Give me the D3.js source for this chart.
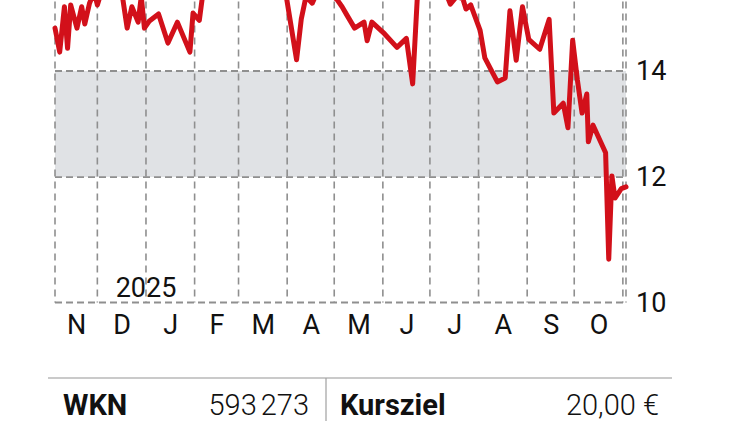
<!DOCTYPE html>
<html>
<head>
<meta charset="utf-8">
<script src="https://cdn.jsdelivr.net/npm/d3@7"></script>
<style>
  body { margin: 0; background: #fff; }
  svg { display: block; font-family: Roboto, "Open Sans", sans-serif; }
</style>
</head>
<body>
<svg width="750" height="421"></svg>
<script>
// price data (top of the chart is cut off in the source, values above ~15.5 are guesses)
const dates = [
  "2024-11-04","2024-11-07","2024-11-10","2024-11-12","2024-11-14","2024-11-18","2024-11-21","2024-11-23",
  "2024-11-26","2024-11-29","2024-12-01","2024-12-06","2024-12-12","2024-12-17","2024-12-20","2024-12-23",
  "2024-12-27","2024-12-29","2024-12-31","2025-01-03","2025-01-09","2025-01-15","2025-01-21","2025-01-29",
  "2025-01-31","2025-02-04","2025-02-06","2025-02-14","2025-02-23","2025-03-05","2025-03-14","2025-03-24",
  "2025-03-31","2025-04-07","2025-04-10","2025-04-13","2025-04-17","2025-04-22","2025-04-28","2025-05-03",
  "2025-05-06","2025-05-09","2025-05-14","2025-05-20","2025-05-22","2025-05-25","2025-06-02","2025-06-10",
  "2025-06-16","2025-06-20","2025-06-23","2025-06-28","2025-07-07","2025-07-13","2025-07-14","2025-07-18",
  "2025-07-22","2025-07-24","2025-07-27","2025-08-02","2025-08-05","2025-08-13","2025-08-18","2025-08-21",
  "2025-08-25","2025-08-29","2025-09-02","2025-09-09","2025-09-15","2025-09-18","2025-09-24","2025-09-27",
  "2025-09-30","2025-10-03","2025-10-06","2025-10-09","2025-10-10","2025-10-13","2025-10-21","2025-10-23",
  "2025-10-25","2025-10-27","2025-10-31","2025-11-03"
];
const prices = [
  14.90,14.39,15.37,14.47,15.41,14.90,15.37,14.99,
  15.45,15.70,15.41,16.00,15.90,15.60,14.90,15.37,
  15.03,15.60,14.90,15.05,15.21,14.58,15.03,14.39,
  15.23,15.07,15.60,16.50,17.00,16.80,17.20,16.60,
  15.70,14.23,15.10,15.60,15.45,15.85,15.70,15.52,
  15.37,15.19,14.90,15.03,14.63,15.03,14.78,14.49,
  14.68,13.74,15.60,16.20,16.00,15.52,15.43,15.60,
  15.55,15.32,15.41,14.85,14.27,13.78,13.86,15.28,
  14.22,15.37,14.66,14.45,15.09,13.17,13.36,12.89,
  14.64,13.82,13.17,13.54,12.63,12.94,12.43,10.65,
  12.02,11.64,11.80,11.83
];
const monthStarts = ["2024-11-01","2024-12-01","2025-01-01","2025-02-01","2025-03-01","2025-04-01",
  "2025-05-01","2025-06-01","2025-07-01","2025-08-01","2025-09-01","2025-10-01","2025-11-01"];
const monthLetters = ["N","D","J","F","M","A","M","J","J","A","S","O"];
const yTicks = [10, 12, 14];
const band = [12, 14];
const yearLabel = "2025";
const tableLabels = ["WKN", "Kursziel"];
const tableValues = [["593", "273"], ["20,00 €"]];

const parse = d3.timeParse("%Y-%m-%d");
const svg = d3.select("svg");

const start = parse("2024-11-04"), end = parse("2025-11-03");
const x = d3.scaleTime().domain([start, end]).range([55, 626]);
const y = d3.scaleLog().domain([10, 14]).range([302.5, 71]);

const grid = "#8f8f8f";
const ink = "#111";
const data = dates.map((d, i) => ({ date: parse(d), value: prices[i] }));

// grey band 12-14
svg.append("rect")
  .attr("x", x(start)).attr("width", x(end) - x(start))
  .attr("y", y(band[1])).attr("height", y(band[0]) - y(band[1]))
  .attr("fill", "#e0e2e5");

// vertical month lines + plot borders
const vlines = monthStarts.map(parse).filter(d => d > start).concat([start, end]);
svg.append("g").selectAll("line").data(vlines).join("line")
  .attr("x1", d => x(d)).attr("x2", d => x(d))
  .attr("y1", y(17.5)).attr("y2", y(10))
  .attr("stroke", grid).attr("stroke-width", 1.6).attr("stroke-dasharray", "7,5");

// horizontal grid lines
svg.append("g").selectAll("line").data(yTicks).join("line")
  .attr("x1", x(start)).attr("x2", x(end))
  .attr("y1", d => y(d)).attr("y2", d => y(d))
  .attr("stroke", grid).attr("stroke-width", 1.8).attr("stroke-dasharray", "7,4");

// price line
svg.append("path").datum(data)
  .attr("fill", "none")
  .attr("stroke", "#d2101a")
  .attr("stroke-width", 5)
  .attr("stroke-linejoin", "round")
  .attr("stroke-linecap", "round")
  .attr("d", d3.line().x(d => x(d.date)).y(d => y(d.value)));

// month letters, centred in each month
const mids = monthStarts.slice(0, -1).map((m, i) => {
  const a = d3.max([parse(m), start]), b = parse(monthStarts[i + 1]);
  return new Date((+a + +b) / 2);
});
const xAxis = svg.append("g")
  .attr("transform", `translate(0,${y(10)})`)
  .call(d3.axisBottom(x).tickValues(mids).tickFormat((d, i) => monthLetters[i]).tickSize(0).tickPadding(12));
xAxis.select(".domain").remove();
xAxis.selectAll("text").attr("font-size", 27).attr("font-weight", 400).attr("fill", ink)
  .attr("font-family", "Roboto, sans-serif");

// y labels on the right
const yAxis = svg.append("g")
  .attr("transform", `translate(${x(end)},0)`)
  .call(d3.axisRight(y).tickValues(yTicks).tickFormat(d3.format("d")).tickSize(0).tickPadding(10));
yAxis.select(".domain").remove();
yAxis.selectAll("text").attr("font-size", 27).attr("font-weight", 400).attr("fill", ink)
  .attr("font-family", "Roboto, sans-serif");

// year label
svg.append("text")
  .attr("x", x(parse("2025-01-01"))).attr("y", 297)
  .attr("text-anchor", "middle")
  .attr("font-size", 27).attr("font-weight", 400).attr("fill", ink)
  .text(yearLabel);

// key data table
svg.append("line").attr("x1", 48).attr("x2", 672).attr("y1", 378).attr("y2", 378)
  .attr("stroke", "#b8b8b8").attr("stroke-width", 1.5);
svg.append("line").attr("x1", 326).attr("x2", 326).attr("y1", 378).attr("y2", 421)
  .attr("stroke", "#a0a0a0").attr("stroke-width", 1.2);

const cells = [
  { label: tableLabels[0], value: tableValues[0], lx: 63, vx: 309 },
  { label: tableLabels[1], value: tableValues[1], lx: 340, vx: 659 }
];
cells.forEach(c => {
  svg.append("text").attr("x", c.lx).attr("y", 415)
    .attr("font-size", 29).attr("font-weight", 700).attr("fill", ink).text(c.label);
  const t = svg.append("text").attr("x", c.vx).attr("y", 415).attr("text-anchor", "end")
    .attr("font-size", 29).attr("font-weight", 300).attr("fill", ink);
  c.value.forEach((part, i) => t.append("tspan").attr("dx", i ? 4 : 0).text(part));
});
</script>
</body>
</html>
